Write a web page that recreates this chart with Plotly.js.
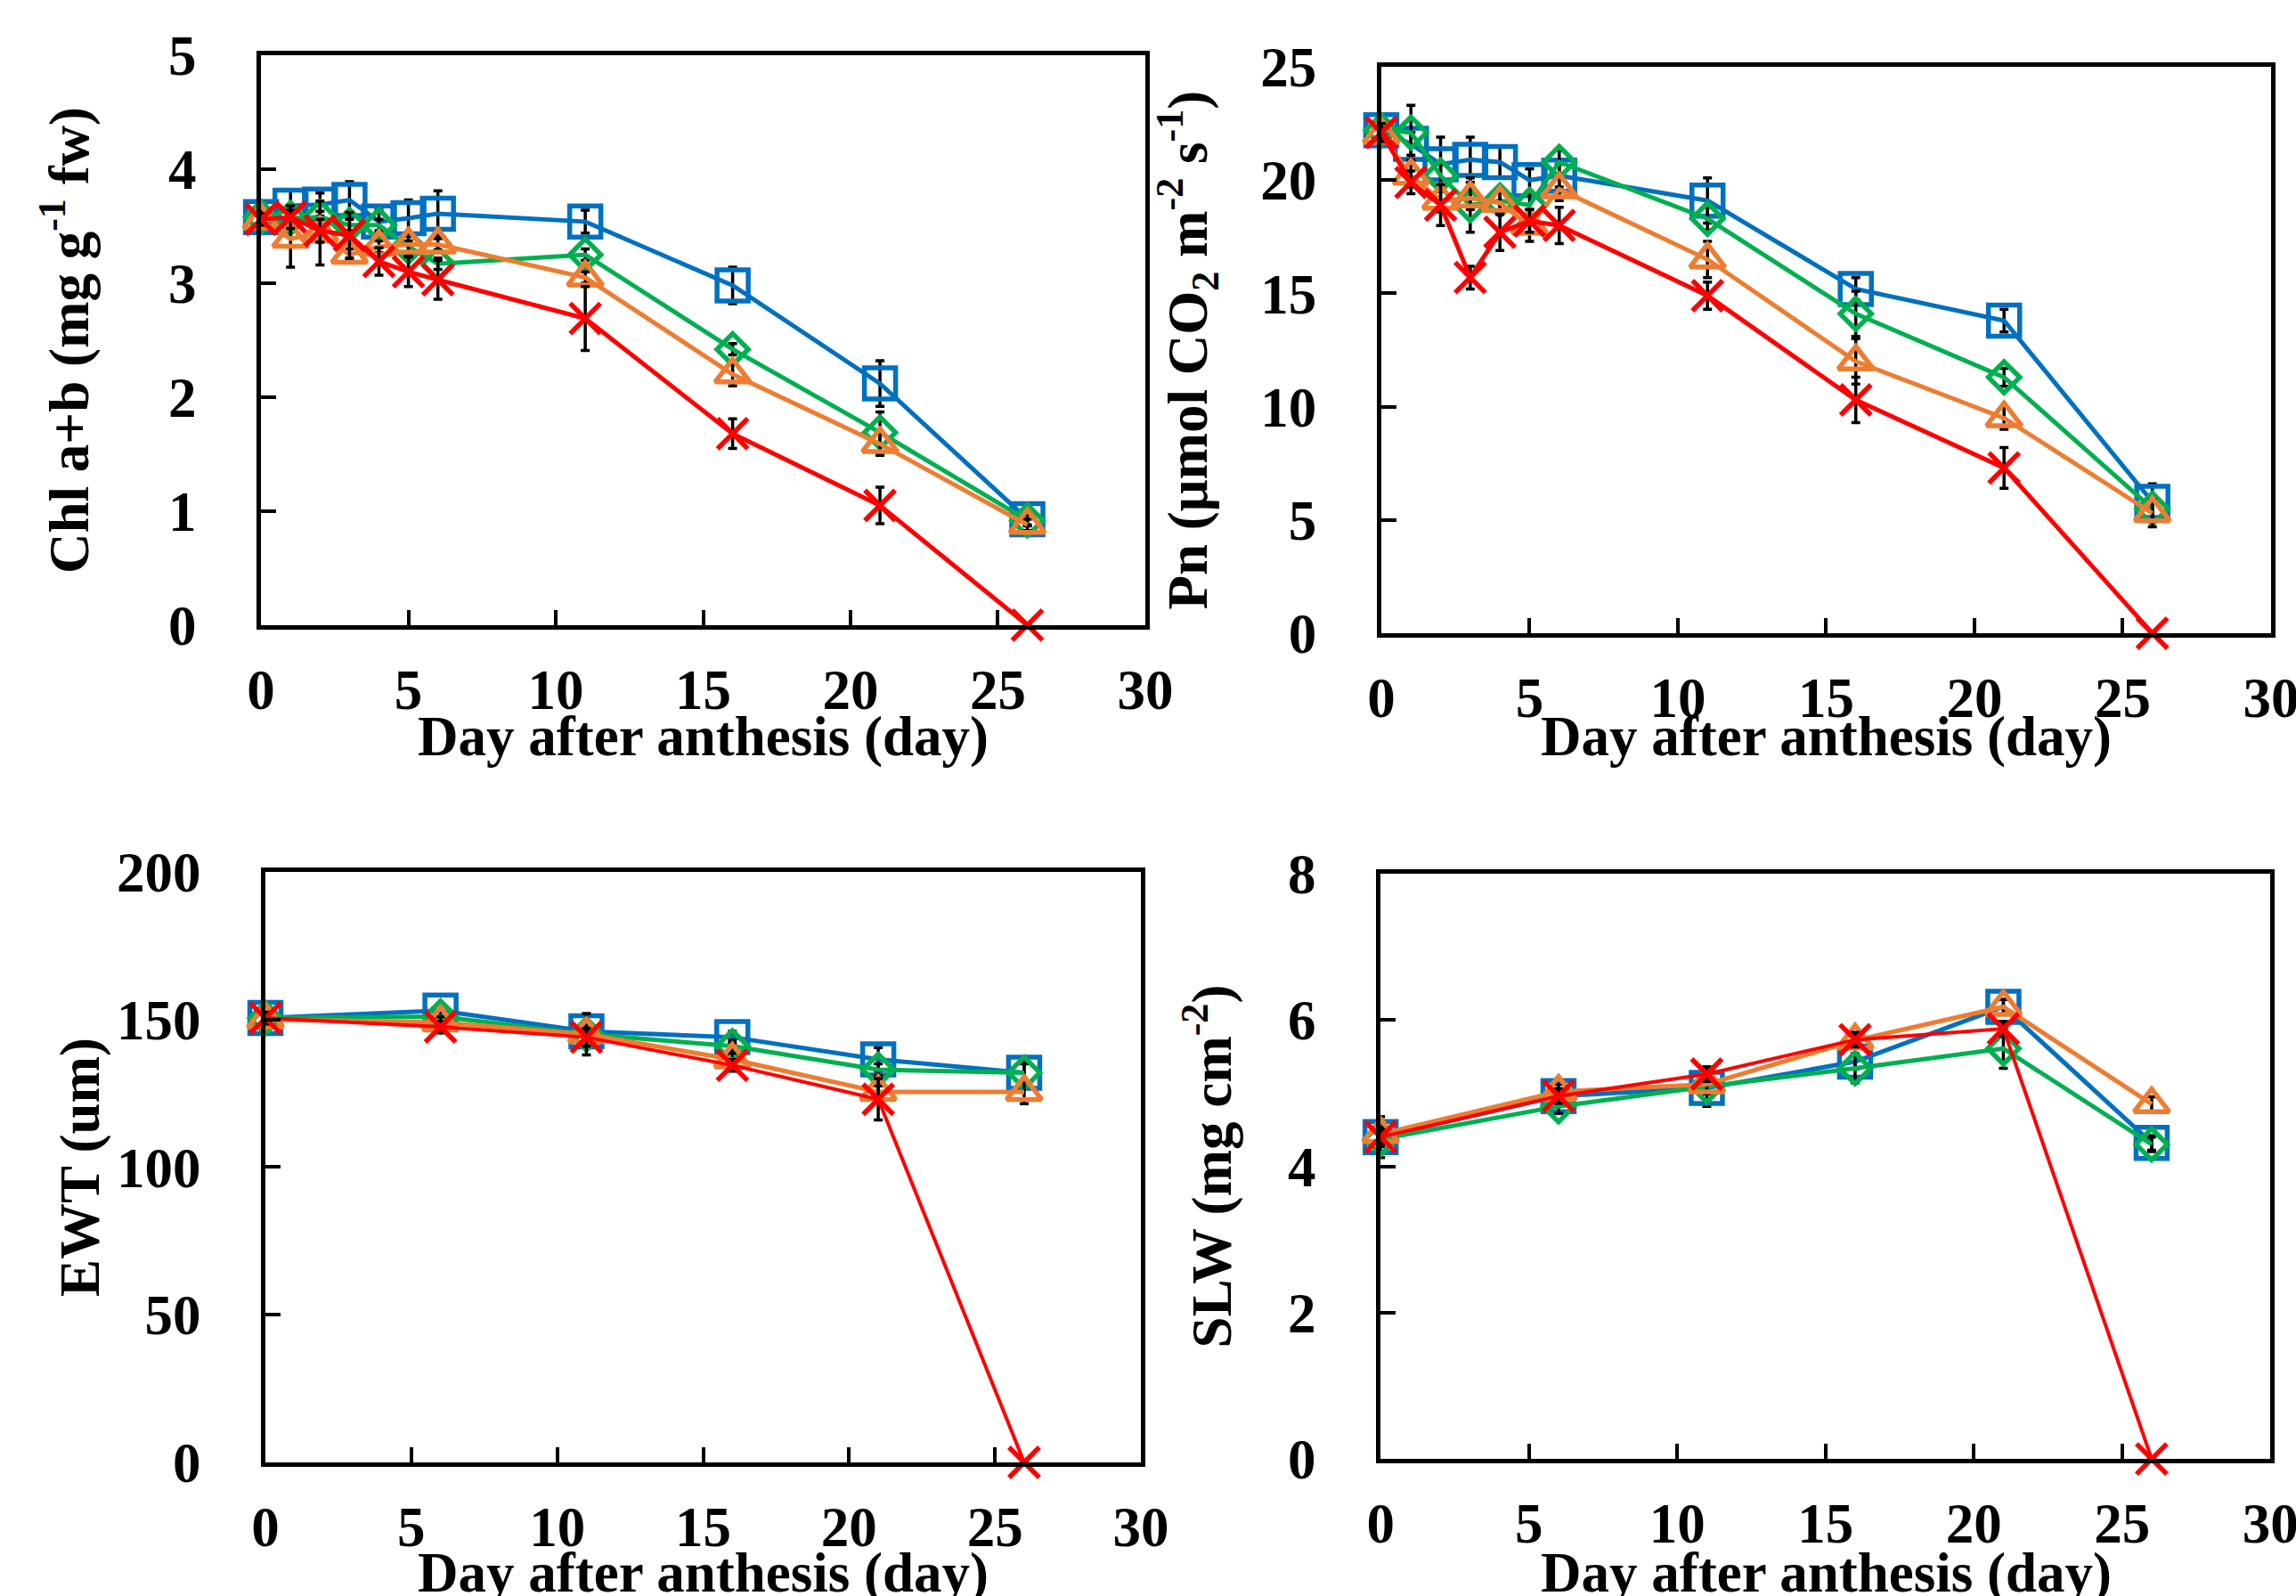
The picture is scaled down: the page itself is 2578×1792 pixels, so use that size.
<!DOCTYPE html>
<html>
<head>
<meta charset="utf-8">
<script src="https://cdn.plot.ly/plotly-3.0.1.min.js"></script>
<style>html,body{margin:0;padding:0;background:#fff;overflow:hidden;}#chart{width:2578px;height:1792px;}</style>
</head>
<body>
<div id="chart"></div>
<script>
// ---- data ----
const daysA = [0, 1, 2, 3, 4, 5, 6, 11, 16, 21, 26];
const daysB = [0, 6, 11, 16, 21, 26];

const chlBlue   = [3.58, 3.68, 3.69, 3.73, 3.54, 3.57, 3.61, 3.54, 2.98, 2.12, 0.93];
const chlGreen  = [3.58, 3.57, 3.58, 3.51, 3.51, 3.32, 3.17, 3.25, 2.42, 1.69, 0.92];
const chlOrange = [3.55, 3.39, 3.44, 3.25, 3.32, 3.34, 3.34, 3.05, 2.20, 1.59, 0.88];
const chlRed    = [3.56, 3.58, 3.46, 3.42, 3.19, 3.10, 3.03, 2.69, 1.68, 1.05, 0];
const chlBlueErr   = [0.05, 0.14, 0.10, 0.16, 0.10, 0.16, 0.20, 0.10, 0.16, 0.20, 0.05];
const chlGreenErr  = [0.05, 0.05, 0.05, 0.05, 0.05, 0.05, 0.05, 0.05, 0.05, 0.18, 0.05];
const chlOrangeErr = [0.05, 0.25, 0.28, 0.05, 0.05, 0.10, 0.05, 0.05, 0.10, 0.10, 0.05];
const chlRedErr    = [0.05, 0.10, 0.10, 0.20, 0.12, 0.13, 0.17, 0.28, 0.13, 0.16, 0];

const pnBlue   = [22.2, 21.6, 20.7, 20.9, 20.8, 20.0, 20.2, 19.1, 15.2, 13.8, 5.8];
const pnGreen  = [22.2, 22.1, 20.2, 18.9, 19.1, 18.9, 20.8, 18.3, 14.1, 11.3, 5.5];
const pnOrange = [22.0, 20.2, 19.1, 19.2, 19.0, 18.0, 19.6, 16.5, 12.0, 9.5, 5.3];
const pnRed    = [22.1, 19.9, 18.9, 15.7, 17.7, 18.2, 18.0, 14.9, 10.3, 7.3, 0];
const pnBlueErr   = [0.4, 0.5, 1.2, 1.0, 0.7, 0.5, 0.5, 1.0, 0.5, 0.5, 0.8];
const pnGreenErr  = [0.4, 1.2, 0.5, 1.2, 0.5, 0.5, 0.5, 0.5, 1.0, 0.4, 0.5];
const pnOrangeErr = [0.4, 0.5, 0.5, 0.5, 0.5, 0.7, 0.5, 0.8, 1.0, 0.5, 0.6];
const pnRedErr    = [0.4, 0.5, 0.9, 0.5, 0.8, 0.5, 0.8, 0.6, 1.0, 0.9, 0];

const ewtBlue   = [150.5, 153, 146, 144, 136.5, 132];
const ewtGreen  = [150.5, 151, 145, 141, 133, 132];
const ewtOrange = [150, 149, 145, 136.5, 125.5, 125.5];
const ewtRed    = [150.5, 147.5, 144, 134.5, 123, 0];
const ewtBlueErr   = [2, 2, 3, 2, 4, 5];
const ewtGreenErr  = [2, 2, 3, 2, 2, 3];
const ewtOrangeErr = [2, 2, 7, 2, 2, 4];
const ewtRedErr    = [2, 2, 3, 2, 7, 0];

const slwBlue   = [4.40, 4.96, 5.07, 5.43, 6.18, 4.32];
const slwGreen  = [4.37, 4.82, 5.09, 5.34, 5.61, 4.30];
const slwOrange = [4.44, 5.02, 5.12, 5.72, 6.18, 4.85];
const slwRed    = [4.40, 4.96, 5.26, 5.73, 5.88, 0];
const slwBlueErr   = [0.28, 0.10, 0.25, 0.10, 0.10, 0.10];
const slwGreenErr  = [0.10, 0.10, 0.10, 0.20, 0.27, 0.10];
const slwOrangeErr = [0.10, 0.10, 0.10, 0.10, 0.10, 0.10];
const slwRedErr    = [0.10, 0.10, 0.10, 0.10, 0.10, 0];

const xTitle = 'Day after anthesis (day)';
const yTitles = ['Chl a+b (mg g<sup>-1</sup> fw)', 'Pn (μmol CO<sub>2</sub> m<sup>-2</sup> s<sup>-1</sup>)', 'EWT (um)', 'SLW (mg cm<sup>-2</sup>)'];

// ---- styles ----
const styles = {
  blue:   {color: '#0070C0', symbol: 'square-open', size: 35},
  green:  {color: '#00B050', symbol: 'diamond-open', size: 27},
  orange: {color: '#ED7D31', symbol: 'triangle-up-open', size: 34},
  red:    {color: '#FF0000', symbol: 'x-thin-open', size: 34}
};

function tr(x, y, err, key, ax) {
  const s = styles[key];
  return {
    x: x, y: y, type: 'scatter', mode: 'lines+markers',
    xaxis: 'x' + ax, yaxis: 'y' + ax, cliponaxis: false, showlegend: false,
    line: {color: s.color, width: 5},
    marker: {symbol: s.symbol, size: s.size, color: s.color, line: {color: s.color, width: 5.5}},
    error_y: {type: 'data', array: err, visible: true, color: '#000', thickness: 3.5, width: 5}
  };
}

const data = [
  tr(daysA, chlBlue, chlBlueErr, 'blue', ''),
  tr(daysA, chlGreen, chlGreenErr, 'green', ''),
  tr(daysA, chlOrange, chlOrangeErr, 'orange', ''),
  tr(daysA, chlRed, chlRedErr, 'red', ''),
  tr(daysA, pnBlue, pnBlueErr, 'blue', '2'),
  tr(daysA, pnGreen, pnGreenErr, 'green', '2'),
  tr(daysA, pnOrange, pnOrangeErr, 'orange', '2'),
  tr(daysA, pnRed, pnRedErr, 'red', '2'),
  tr(daysB, ewtBlue, ewtBlueErr, 'blue', '3'),
  tr(daysB, ewtGreen, ewtGreenErr, 'green', '3'),
  tr(daysB, ewtOrange, ewtOrangeErr, 'orange', '3'),
  tr(daysB, ewtRed, ewtRedErr, 'red', '3'),
  tr(daysB, slwBlue, slwBlueErr, 'blue', '4'),
  tr(daysB, slwGreen, slwGreenErr, 'green', '4'),
  tr(daysB, slwOrange, slwOrangeErr, 'orange', '4'),
  tr(daysB, slwRed, slwRedErr, 'red', '4')
];
data[11].line.width = 4;
data[15].line.width = 4;

const FF = 'Liberation Serif, Times New Roman, serif';
const FS = 63;
function xax(domain, anchor) {
  return {
    domain: domain, anchor: anchor, range: [0, 30], dtick: 5, tick0: 0,
    showline: true, mirror: true, linecolor: '#000', linewidth: 5,
    ticks: 'inside', ticklen: 17, tickwidth: 4, tickcolor: '#000',
    showgrid: false, zeroline: false, ticklabelstandoff: 13, ticklabeloverflow: 'allow',
    tickfont: {family: FF, size: FS, color: '#000', weight: 'bold'}
  };
}
function yax(domain, anchor, range, dtick, title, standoff) {
  return {
    domain: domain, anchor: anchor, range: range, dtick: dtick, tick0: 0,
    showline: true, mirror: true, linecolor: '#000', linewidth: 5,
    ticks: 'inside', ticklen: 17, tickwidth: 4, tickcolor: '#000',
    showgrid: false, zeroline: false, ticklabelstandoff: 55, ticklabeloverflow: 'allow',
    tickfont: {family: FF, size: FS, color: '#000', weight: 'bold'},
    title: {text: title, standoff: standoff, font: {family: FF, size: FS, color: '#000', weight: 'bold'}}
  };
}

function xTitleAnn(x, y) {
  return {text: xTitle, xref: 'paper', yref: 'paper', x: x, y: y, xanchor: 'center', yanchor: 'middle',
          showarrow: false, font: {family: FF, size: FS, color: '#000', weight: 'bold'}};
}

const layout = {
  width: 2578, height: 1792,
  margin: {l: 0, r: 0, t: 0, b: 0},
  paper_bgcolor: '#fff', plot_bgcolor: '#fff',
  showlegend: false,
  xaxis:  xax([0.1137, 0.4988], 'y'),
  yaxis:  yax([0.6083, 0.9654], 'x', [0, 5], 1, yTitles[0], 70),
  xaxis2: xax([0.6016, 0.9891], 'y2'),
  yaxis2: yax([0.6032, 0.9581], 'x2', [0, 25], 5, yTitles[1], 41),
  xaxis3: xax([0.1156, 0.4969], 'y3'),
  yaxis3: yax([0.0837, 0.4537], 'x3', [0, 200], 50, yTitles[2], 0),
  xaxis4: xax([0.6013, 0.9888], 'y4'),
  yaxis4: yax([0.0859, 0.4526], 'x4', [0, 8], 2, yTitles[3], 44),
  annotations: [
    xTitleAnn(0.3063, 0.5385),
    xTitleAnn(0.7953, 0.5385),
    xTitleAnn(0.3063, 0.0145),
    xTitleAnn(0.7953, 0.0145)
  ]
};

Plotly.newPlot('chart', data, layout, {staticPlot: true, displayModeBar: false});
</script>
</body>
</html>
